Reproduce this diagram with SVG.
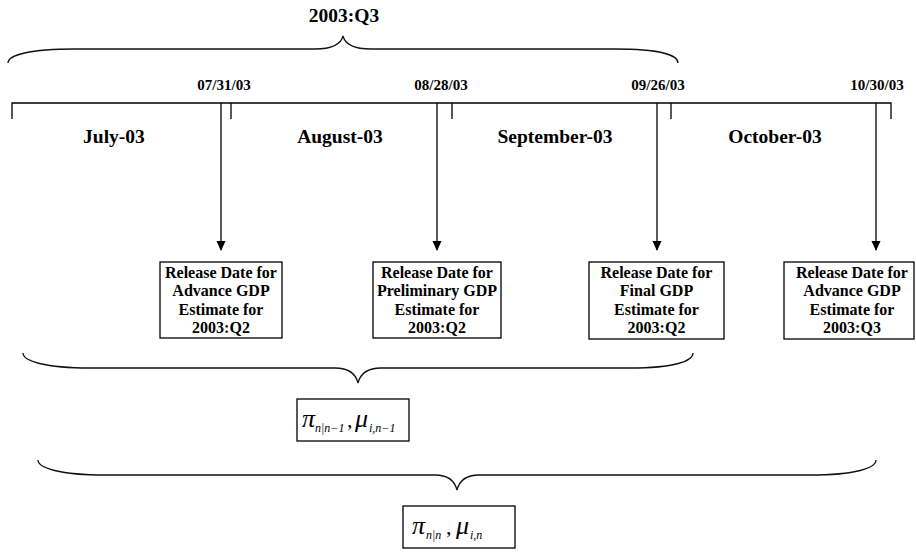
<svg xmlns="http://www.w3.org/2000/svg" width="916" height="552" viewBox="0 0 916 552">
<defs>
<style>
.ln{stroke:#000;stroke-width:1.3;fill:none}
.br{stroke:#111;stroke-width:1.3;fill:none}
.box{fill:#fff;stroke:#000;stroke-width:1.3}
.t{font-family:"Liberation Serif","Times New Roman",serif;font-weight:bold;fill:#000;text-anchor:middle}
.title{font-size:19.5px}
.date{font-size:15px}
.mon{font-size:19.5px}
.bt{font-size:16px}
.m{font-family:"Liberation Serif","Times New Roman",serif;font-style:italic;fill:#000}
.big{font-size:26px}
.sub{font-size:12px}
.cm{font-size:22px;font-style:normal}
</style>
<marker id="ah" markerWidth="10" markerHeight="10" refX="9" refY="5" orient="auto" markerUnits="userSpaceOnUse">
<path d="M0,0.5 L10,5 L0,9.5 Z" fill="#000"/>
</marker>
</defs>
<rect width="916" height="552" fill="#fff"/>

<g id="labels">
<text class="t title" x="344" y="22">2003:Q3</text>
<text class="t date" x="224" y="90">07/31/03</text>
<text class="t date" x="441" y="90">08/28/03</text>
<text class="t date" x="658" y="90">09/26/03</text>
<text class="t date" x="877" y="90">10/30/03</text>
<text class="t mon" x="114" y="143">July-03</text>
<text class="t mon" x="340" y="143">August-03</text>
<text class="t mon" x="555" y="143">September-03</text>
<text class="t mon" x="775" y="143">October-03</text>
</g>

<g id="timeline">
<path class="ln" d="M12,119 V103 H891 V119"/>
<path class="ln" d="M231,103 V119 M452,103 V119 M671,103 V119"/>
</g>

<g id="braces">
<path class="br" d="M8,63 C8,55 30,49 75,49 L315,49 C333,49 341,44 343,36 C345,44 353,49 371,49 L615,49 C660,49 678,55 678,63"/>
<path class="br" d="M23,353 C23,361 45,368 90,368 L335,368 C350,368 356,375 358,383 C360,375 366,368 381,368 L630,368 C675,368 693,361 693,353"/>
<path class="br" d="M38,460 C38,468 60,475 105,475 L435,475 C450,475 455,482 457,490 C459,482 464,475 479,475 L810,475 C856,475 876,468 876,460"/>
</g>

<g id="connectors">
<line class="ln" x1="221" y1="103" x2="221" y2="250" marker-end="url(#ah)"/>
<line class="ln" x1="437" y1="103" x2="437" y2="250" marker-end="url(#ah)"/>
<line class="ln" x1="657" y1="103" x2="657" y2="250" marker-end="url(#ah)"/>
<line class="ln" x1="876" y1="103" x2="876" y2="250" marker-end="url(#ah)"/>
</g>

<g id="box1">
<rect class="box" x="160" y="262" width="122" height="76"/>
<text class="t bt" x="221" y="277.5">Release Date for</text>
<text class="t bt" x="221" y="296">Advance GDP</text>
<text class="t bt" x="221" y="314.5">Estimate for</text>
<text class="t bt" x="221" y="333">2003:Q2</text>
</g>
<g id="box2">
<rect class="box" x="373" y="262" width="128" height="76"/>
<text class="t bt" x="437" y="277.5">Release Date for</text>
<text class="t bt" x="437" y="296">Preliminary GDP</text>
<text class="t bt" x="437" y="314.5">Estimate for</text>
<text class="t bt" x="437" y="333">2003:Q2</text>
</g>
<g id="box3">
<rect class="box" x="589" y="262" width="135" height="77"/>
<text class="t bt" x="656.5" y="277.5">Release Date for</text>
<text class="t bt" x="656.5" y="296">Final GDP</text>
<text class="t bt" x="656.5" y="314.5">Estimate for</text>
<text class="t bt" x="656.5" y="333">2003:Q2</text>
</g>
<g id="box4">
<rect class="box" x="784" y="262" width="130" height="77"/>
<text class="t bt" x="852" y="277.5">Release Date for</text>
<text class="t bt" x="852" y="296">Advance GDP</text>
<text class="t bt" x="852" y="314.5">Estimate for</text>
<text class="t bt" x="852" y="333">2003:Q3</text>
</g>

<g id="pi1">
<rect class="box" x="297" y="399" width="112" height="42"/>
<text class="m" y="427"><tspan class="big" x="302">π</tspan><tspan class="sub" x="315" y="432">n|n−1</tspan><tspan class="cm" x="347" y="427">,</tspan><tspan class="big" x="355">μ</tspan><tspan class="sub" x="369" y="432">i,n−1</tspan></text>
</g>
<g id="pi2">
<rect class="box" x="403" y="506" width="112" height="42"/>
<text class="m" y="534"><tspan class="big" x="412">π</tspan><tspan class="sub" x="426" y="539">n|n</tspan><tspan class="cm" x="446" y="534">,</tspan><tspan class="big" x="456">μ</tspan><tspan class="sub" x="470" y="539">i,n</tspan></text>
</g>
</svg>
